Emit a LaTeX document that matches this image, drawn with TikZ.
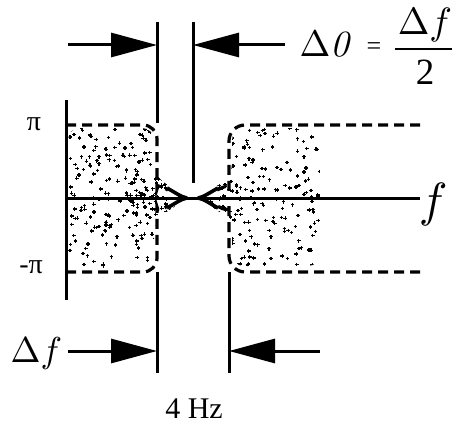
\documentclass[tikz,border=0pt]{standalone}
\usepackage{fontspec}
\setmainfont{Liberation Serif}
\usetikzlibrary{arrows.meta}
\newcommand{\lmi}[1]{{\fontfamily{lmr}\selectfont\itshape #1}}
\begin{document}
\begin{tikzpicture}[x=1pt,y=-1pt,
  thickline/.style={line width=3pt},
  dimarrow/.style={line width=3pt,-{Triangle[length=46pt,width=24pt]}},
  dashbox/.style={line width=3.2pt,dash pattern=on 10pt off 6pt},
  funnel/.style={line width=3.6pt},
  stip/.style={line width=1.25pt},
  lbl/.style={inner sep=0pt},
  big/.style={lbl,font=\fontsize{37}{40}\selectfont}]
\useasboundingbox (0,0) rectangle (452,425);
\fill[white] (0,0) rectangle (452,425);

% stipple, left region
\begin{scope}
\clip[rounded corners=12pt] (68,128) -- (154,128) -- (154,176) -- (188,198) -- (154,220) -- (154,268) -- (68,268) -- cycle;
\pgfmathsetseed{11}
\foreach \i in {1,...,230}{
  \pgfmathsetmacro{\px}{70+118*rnd}
  \pgfmathsetmacro{\py}{128+140*rnd}
  \draw[stip] (\px,\py) +(-1.8,0) -- +(1.8,0) +(0,-1.8) -- +(0,1.8);
}
\foreach \i in {1,...,45}{
  \pgfmathsetmacro{\px}{125+60*rnd}
  \pgfmathsetmacro{\py}{198+40*(rnd-0.5)}
  \draw[stip] (\px,\py) +(-1.8,0) -- +(1.8,0) +(0,-1.8) -- +(0,1.8);
}
\end{scope}
% stipple, right region
\begin{scope}
\clip[rounded corners=12pt] (232,128) -- (320,128) -- (320,266) -- (232,266) -- (232,220) -- (198,198) -- (232,176) -- cycle;
\pgfmathsetseed{23}
\foreach \i in {1,...,210}{
  \pgfmathsetmacro{\px}{198+122*rnd}
  \pgfmathsetmacro{\py}{128+138*rnd}
  \draw[stip] (\px,\py) +(-1.8,0) -- +(1.8,0) +(0,-1.8) -- +(0,1.8);
}
\foreach \i in {1,...,30}{
  \pgfmathsetmacro{\px}{198+45*rnd}
  \pgfmathsetmacro{\py}{198+40*(rnd-0.5)}
  \draw[stip] (\px,\py) +(-1.8,0) -- +(1.8,0) +(0,-1.8) -- +(0,1.8);
}
\end{scope}

% axes
\coordinate (axT) at (66,100);
\coordinate (axB) at (66,300);
\coordinate (axO) at (66,198);
\coordinate (axE) at (420,198);
\draw[thickline] (axT) -- (axB);
\draw[thickline] (axO) -- (axE);

% dashed boundaries
\draw[dashbox, rounded corners=14pt] (66,125) -- (157,125) -- (157,175) .. controls (157,183) and (162,187) .. (168,190);
\draw[dashbox, rounded corners=14pt] (66,272) -- (157,272) -- (157,221) .. controls (157,213) and (162,209) .. (168,206);
\draw[dashbox, rounded corners=16pt] (420,125) -- (229,125) -- (229,175) .. controls (229,183) and (224,187) .. (217,190);
\draw[dashbox, rounded corners=16pt] (420,272) -- (229,272) -- (229,221) .. controls (229,213) and (224,209) .. (217,206);
% funnel tips
\coordinate (tipL) at (187,198);
\coordinate (tipR) at (198,198);
\draw[funnel] (167,188) .. controls (176,193) and (181,197) .. (tipL);
\draw[funnel] (167,208) .. controls (176,203) and (181,199) .. (tipL);
\draw[funnel] (218,188) .. controls (209,193) and (204,197) .. (tipR);
\draw[funnel] (218,208) .. controls (209,203) and (204,199) .. (tipR);

% extension lines
\coordinate (vL1) at (157,22);  \coordinate (vL2) at (157,123);
\coordinate (vM1) at (193,22);  \coordinate (vM2) at (193,183);
\coordinate (vL3) at (157,272); \coordinate (vL4) at (157,373);
\coordinate (vR3) at (229,272); \coordinate (vR4) at (229,373);
\draw[thickline] (vL1) -- (vL2);
\draw[thickline] (vM1) -- (vM2);
\draw[thickline] (vL3) -- (vL4);
\draw[thickline] (vR3) -- (vR4);

% dimension arrows
\coordinate (tlA) at (68,45);  \coordinate (tlB) at (157,45);
\coordinate (trA) at (285,45); \coordinate (trB) at (193,45);
\coordinate (blA) at (68,351); \coordinate (blB) at (157,351);
\coordinate (brA) at (320,351);\coordinate (brB) at (229,351);
\draw[dimarrow] (tlA) -- (tlB);
\draw[dimarrow] (trA) -- (trB);
\draw[dimarrow] (blA) -- (blB);
\draw[dimarrow] (brA) -- (brB);

% labels
\node[lbl, scale=3.7, anchor=base west] (d0) at (299,57) {$\Delta$\lmi{0}};
\node[lbl, font=\fontsize{26}{28}\selectfont] (eq) at (374,49) {=};
\node[lbl, scale=3.8, anchor=base west] (num) at (397,35) {$\Delta f$};
\coordinate (barL) at (395,49); \coordinate (barR) at (452,49);
\draw[line width=1.4pt] (barL) -- (barR);
\node[big, anchor=base] (two) at (425,85) {2};

\node[lbl, font=\fontsize{28}{30}\selectfont] (pi) at (34,124) {π};
\node[lbl, font=\fontsize{28}{30}\selectfont] (mpi) at (31,267) {-π};
\node[lbl, scale=4.8, anchor=base west] (flab) at (418,216) {$f$};
\node[lbl, scale=3.6, anchor=base west] (df) at (10,362) {$\Delta f$};
\node[lbl, font=\fontsize{30}{32}\selectfont, anchor=base] (hz) at (194,418) {4 Hz};
\end{tikzpicture}
\end{document}
